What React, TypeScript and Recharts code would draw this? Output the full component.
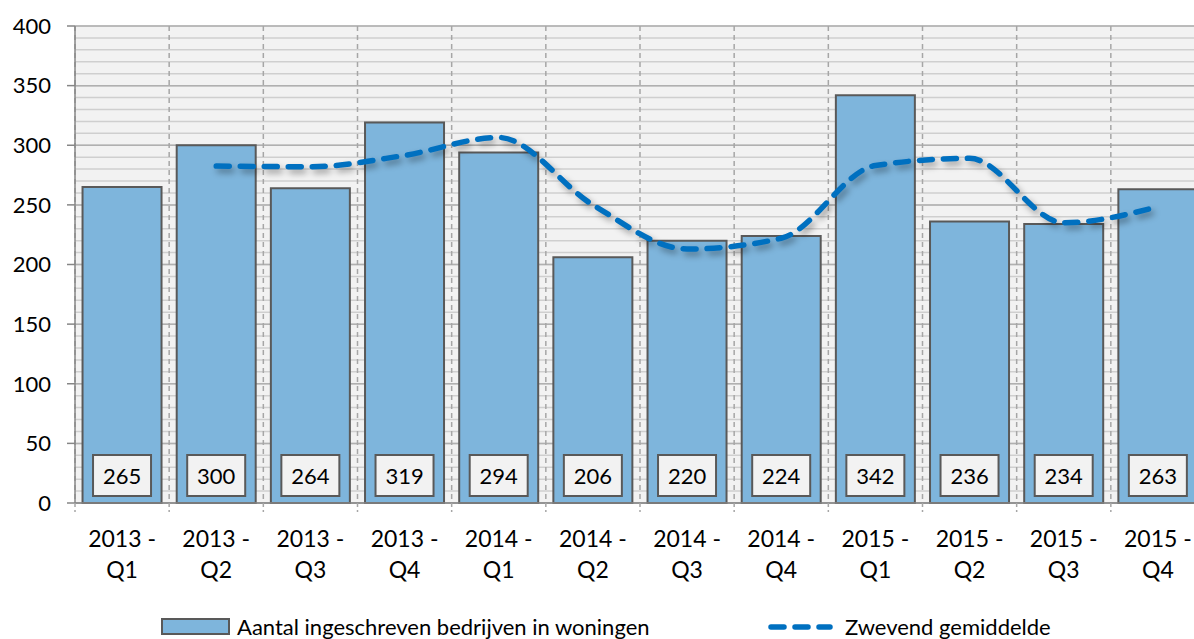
import { Bar, CartesianGrid, ComposedChart, LabelList, Line, XAxis, YAxis } from "recharts";

const QUARTERS = [
  "2013 - Q1", "2013 - Q2", "2013 - Q3", "2013 - Q4",
  "2014 - Q1", "2014 - Q2", "2014 - Q3", "2014 - Q4",
  "2015 - Q1", "2015 - Q2", "2015 - Q3", "2015 - Q4",
];
const BEDRIJVEN = [265, 300, 264, 319, 294, 206, 220, 224, 342, 236, 234, 263];
const GEMIDDELDE = [null, 282.5, 282, 291.5, 306.5, 250, 213, 222, 283, 289, 235, 248.5];

const Y_TICKS = [0, 50, 100, 150, 200, 250, 300, 350, 400];
const MINOR_TICKS = Array.from({ length: 41 }, (_, i) => i * 10);

const FONT = "Lato, 'Noto Sans', sans-serif";
const BAR_FILL = "#7EB5DC";
const LINE_BLUE = "#0070C0";

const data = QUARTERS.map((q, i) => ({ q, value: BEDRIJVEN[i], avg: GEMIDDELDE[i] }));

// band edges of the category axis: the plot is split evenly into one band per quarter
function boundaryLines({ offset }: any) {
  if (!offset) return [];
  const step = offset.width / QUARTERS.length;
  return [...QUARTERS.map((_, i) => offset.left + i * step), offset.left + offset.width];
}

function BoxLabel(props: any) {
  const { x, y, width, height, value } = props;
  const cx = x + width / 2;
  const bottom = y + height;
  return (
    <g>
      <rect x={cx - 29} y={bottom - 48} width={58} height={41} fill="#f2f2f2" stroke="#595959" strokeWidth={2} />
      <text x={cx} y={bottom - 27.5} textAnchor="middle" dominantBaseline="central" fontSize={22} fontFamily={FONT} fill="#000">
        {value}
      </text>
    </g>
  );
}

function QuarterTick(props: any) {
  const { x, y, payload, index } = props;
  const half = payload?.offset ?? 0;
  const [year, q] = String(payload.value).split(" - ");
  const tickAt = (tx: number) => (
    <line x1={tx} x2={tx} y1={y - 8} y2={y + 1} stroke="#a6a6a6" strokeWidth={1.5} strokeDasharray="4 3" />
  );
  return (
    <g>
      {tickAt(x - half)}
      {index === QUARTERS.length - 1 && tickAt(x + half)}
      <text x={x} y={y + 36} textAnchor="middle" fontFamily={FONT} fontSize={23} fill="#000">{`${year} -`}</text>
      <text x={x} y={y + 67} textAnchor="middle" fontFamily={FONT} fontSize={23} fill="#000">{q}</text>
    </g>
  );
}

export default function App() {
  return (
    <div style={{ position: "fixed", left: 0, top: 0, width: 1194, height: 639, overflow: "hidden", background: "#fff", fontFamily: FONT }}>
      <style>{`.ma-line path { filter: drop-shadow(3px 4px 3px rgba(0,0,0,0.35)); }`}</style>
      <ComposedChart width={1221} height={590} data={data} margin={{ top: 26, right: 16, left: 0, bottom: 0 }} barCategoryGap="8%">
        <XAxis
          dataKey="q"
          interval={0}
          height={87}
          axisLine={{ stroke: "#868686", strokeWidth: 1.5 }}
          tickLine={false}
          tick={<QuarterTick />}
        />
        <YAxis
          domain={[0, 400]}
          ticks={Y_TICKS}
          interval={0}
          width={75}
          axisLine={{ stroke: "#868686", strokeWidth: 1.5 }}
          tickLine={{ stroke: "#868686", strokeWidth: 1.5 }}
          tickSize={8}
          tickMargin={16}
          tick={{ fontSize: 22, fontFamily: FONT, fill: "#000" }}
        />
        <CartesianGrid vertical={false} horizontalValues={MINOR_TICKS} stroke="#cfcfcf" strokeWidth={1.5} fill="#f2f2f2" />
        <CartesianGrid vertical={false} stroke="#b0b0b0" strokeWidth={1.5} />
        <CartesianGrid horizontal={false} verticalCoordinatesGenerator={boundaryLines} stroke="#a6a6a6" strokeWidth={1.5} strokeDasharray="5 4" />
        <Bar dataKey="value" fill={BAR_FILL} stroke="#595959" strokeWidth={2} isAnimationActive={false}>
          <LabelList dataKey="value" content={<BoxLabel />} />
        </Bar>
        <Line
          className="ma-line"
          type="monotone"
          dataKey="avg"
          stroke={LINE_BLUE}
          strokeWidth={5.5}
          strokeDasharray="13 11"
          strokeLinecap="round"
          dot={false}
          activeDot={false}
          isAnimationActive={false}
        />
      </ComposedChart>
      <div style={{ position: "absolute", left: 161, top: 613, display: "flex", alignItems: "center", fontSize: 22, color: "#000", whiteSpace: "nowrap" }}>
        <svg width={70} height={18} style={{ marginRight: 6 }}>
          <rect x={1} y={1} width={67} height={15} fill={BAR_FILL} stroke="#595959" strokeWidth={2} />
        </svg>
        <span>Aantal ingeschreven bedrijven in woningen</span>
      </div>
      <div style={{ position: "absolute", left: 766, top: 613, display: "flex", alignItems: "center", fontSize: 22, color: "#000", whiteSpace: "nowrap" }}>
        <svg width={68} height={18} style={{ marginRight: 11 }}>
          <line x1={5} x2={64} y1={9} y2={9} stroke={LINE_BLUE} strokeWidth={5.5} strokeLinecap="round" strokeDasharray="13 11" />
        </svg>
        <span>Zwevend gemiddelde</span>
      </div>
    </div>
  );
}
